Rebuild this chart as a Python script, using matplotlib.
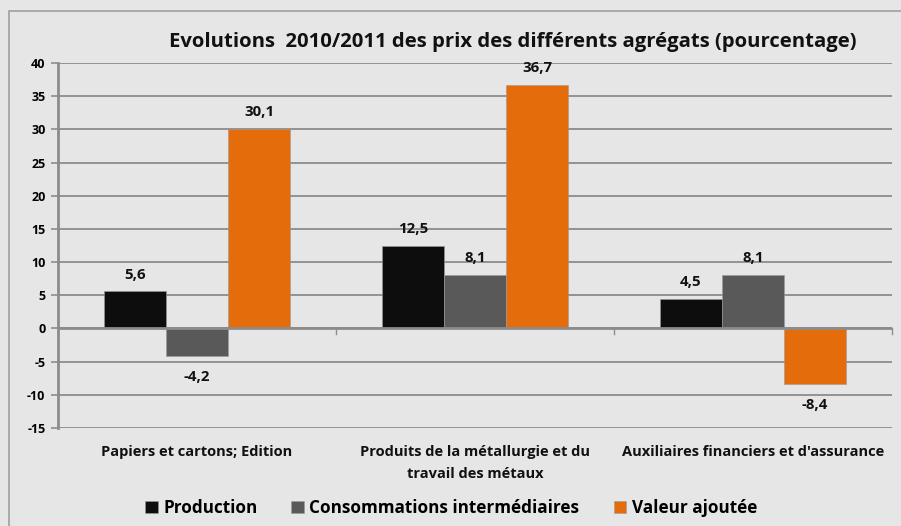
import numpy as np
import matplotlib
matplotlib.use("Agg")
import matplotlib.pyplot as plt
from matplotlib.patches import Rectangle

plt.rcParams['font.family'] = ['Open Sans', 'DejaVu Sans']
plt.rcParams['font.weight'] = 'bold'

categories = ["Papiers et cartons; Edition",
              "Produits de la métallurgie et du\ntravail des métaux",
              "Auxiliaires financiers et d'assurance"]
series_names = ["Production", "Consommations intermédiaires", "Valeur ajoutée"]
production = [5.6, 12.5, 4.5]
consommations = [-4.2, 8.1, 8.1]
valeur = [30.1, 36.7, -8.4]
colors = ["#0d0d0d", "#595959", "#e46c0a"]
yticks = [-15, -10, -5, 0, 5, 10, 15, 20, 25, 30, 35, 40]

W, H = 901, 526
fig = plt.figure(figsize=(W / 100, H / 100), dpi=100)
fig.patch.set_facecolor("#e6e6e6")

# cadre exterieur
fig.patches.append(Rectangle((9 / W, -0.05), 1.2, 1 - 11 / H + 0.05,
                             transform=fig.transFigure, fill=False,
                             edgecolor="#a0a0a0", linewidth=1.2))

ax = fig.add_axes([58 / W, 1 - 428 / H, (892 - 58) / W, (428 - 63) / H])
ax.set_facecolor("#e6e6e6")

x = np.arange(len(categories))
w = 0.223
data = [production, consommations, valeur]
for i, (vals, col, name) in enumerate(zip(data, colors, series_names)):
    bars = ax.bar(x + (i - 1) * w, vals, w, color=col, label=name,
                  edgecolor="#9a9a9a", linewidth=0.4, zorder=3)
    for b, v in zip(bars, vals):
        txt = ("%.1f" % v).replace(".", ",")
        if v >= 0:
            ax.annotate(txt, (b.get_x() + b.get_width() / 2, v),
                        xytext=(0, 7), textcoords="offset points",
                        ha="center", va="bottom", fontsize=10.8,
                        fontweight="bold", color="#111111")
        else:
            ax.annotate(txt, (b.get_x() + b.get_width() / 2, v),
                        xytext=(0, -10), textcoords="offset points",
                        ha="center", va="top", fontsize=10.8,
                        fontweight="bold", color="#111111")

ax.set_ylim(-15, 40)
ax.set_xlim(-0.5, 2.5)
ax.set_yticks(yticks)
ax.set_yticklabels([str(t) for t in yticks], fontsize=9, fontweight="bold")
ax.yaxis.grid(True, color="#8c8c8c", linewidth=1.3, zorder=0)
ax.set_axisbelow(True)
ax.tick_params(axis="y", length=5, color="#8c8c8c", width=1.2, pad=4)

ax.set_xticks([])
# axe des x a zero avec graduations entre categories
ax.axhline(0, color="#8c8c8c", linewidth=2, zorder=4)
for b in [-0.5, 0.5, 1.5, 2.5]:
    ax.plot([b, b], [0, -0.9], color="#8c8c8c", linewidth=1, zorder=4,
            clip_on=False)
for xi, c in zip(x, categories):
    ax.text(xi, -17.5, c, ha="center", va="top", fontsize=10.5,
            fontweight="bold", color="#111111", linespacing=1.75)

for s in ["top", "right", "bottom"]:
    ax.spines[s].set_visible(False)
ax.spines["left"].set_color("#8c8c8c")
ax.spines["left"].set_linewidth(2)

fig.text(513 / W, 1 - 42 / H,
         "Evolutions  2010/2011 des prix des différents agrégats (pourcentage)",
         ha="center", va="center", fontsize=14.6, fontweight="bold",
         color="#111111")

ax.legend(loc="center", bbox_to_anchor=(451 / W, 1 - 508 / H),
          bbox_transform=fig.transFigure, ncol=3, frameon=False,
          prop={"size": 12.3, "weight": "bold"}, handlelength=0.75,
          handleheight=0.75, handletextpad=0.3, columnspacing=2.0)

fig.savefig("out.png", dpi=100, facecolor=fig.get_facecolor())
